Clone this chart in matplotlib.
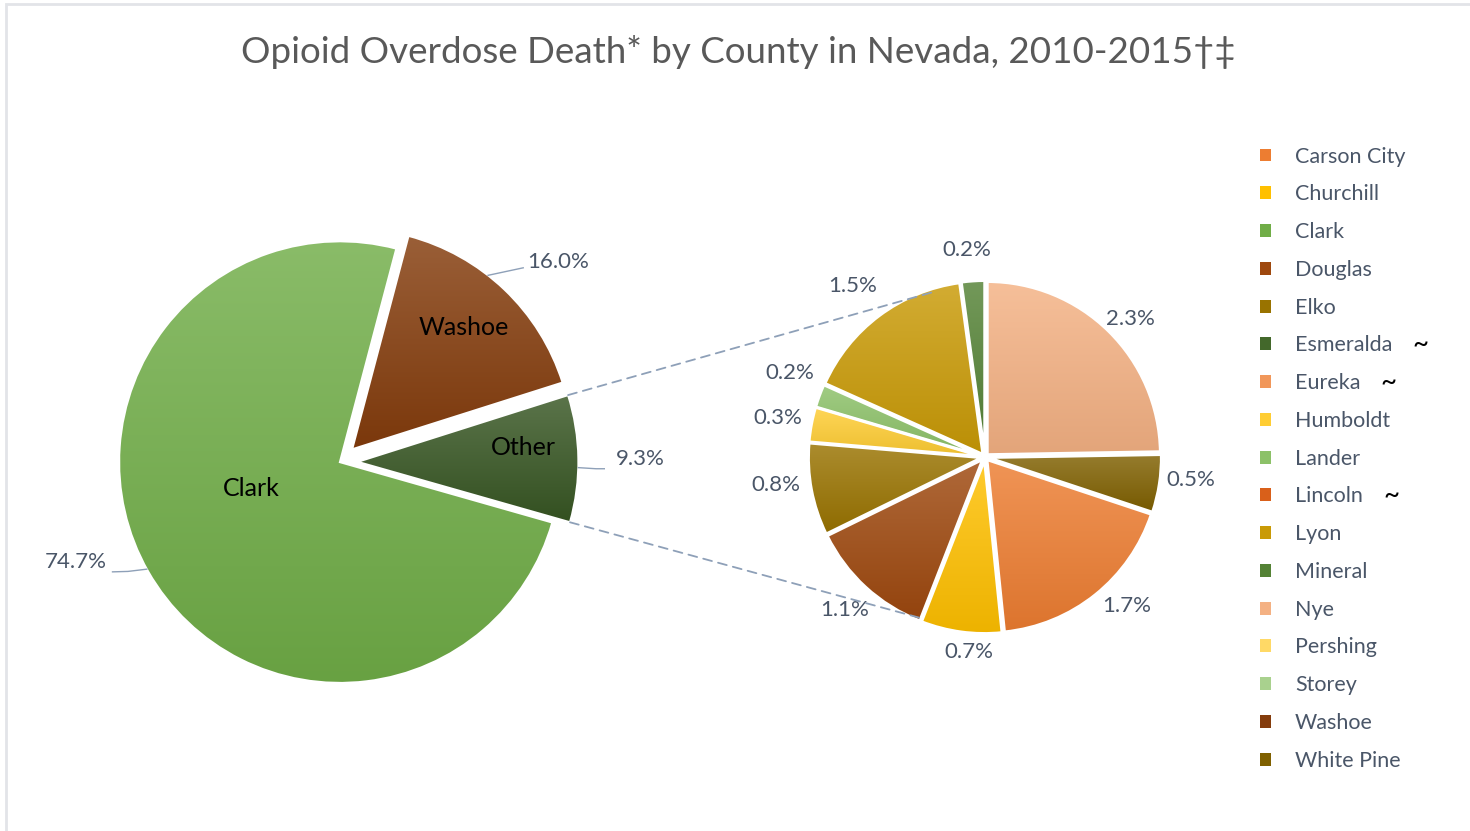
import numpy as np
import matplotlib
matplotlib.use('Agg')
from matplotlib import pyplot as plt
from matplotlib.patches import Patch, Rectangle, ConnectionPatch
from matplotlib.colors import to_rgb

plt.rcParams['font.family'] = ['Lato', 'DejaVu Sans']

# main pie
main_labels = ['Washoe', 'Other', 'Clark']
main_values = [16.0, 9.3, 74.7]
main_colors = ['#843C0C', '#375623', '#70AD47']

# breakdown of "Other"
other_labels = ['Carson City', 'Churchill', 'Douglas', 'Elko', 'Humboldt',
                'Lander', 'Lyon', 'Mineral', 'Nye', 'White Pine']
other_values = [1.7, 0.7, 1.1, 0.8, 0.3, 0.2, 1.5, 0.2, 2.3, 0.5]

# legend
legend_labels = ['Carson City', 'Churchill', 'Clark', 'Douglas', 'Elko',
                 'Esmeralda', 'Eureka', 'Humboldt', 'Lander', 'Lincoln',
                 'Lyon', 'Mineral', 'Nye', 'Pershing', 'Storey', 'Washoe',
                 'White Pine']
legend_colors = ['#ED7D31', '#FFC000', '#70AD47', '#9E480E', '#997300',
                 '#43682B', '#F1975A', '#FFCD33', '#8CC168', '#D9601A',
                 '#C99A06', '#548235', '#F4B183', '#FFD966', '#A9D18E',
                 '#843C0C', '#7F6000']
suppressed = ['Esmeralda', 'Eureka', 'Lincoln']

color_of = dict(zip(legend_labels, legend_colors))
other_colors = [color_of[c] for c in other_labels]

TXT = '#4A5668'
LEAD = '#8EA0B8'


def gradient_fill(ax, wedge, color):
    c = np.array(to_rgb(color))
    top = c + (1 - c) * 0.18
    bottom = c * 0.93
    t = np.linspace(0, 1, 200)[:, None]
    img = top[None, :] * (1 - t) + bottom[None, :] * t
    img = np.repeat(img[:, None, :], 2, axis=1)
    ext = wedge.get_path().get_extents()
    im = ax.imshow(img, extent=[ext.x0, ext.x1, ext.y0, ext.y1],
                   origin='upper', aspect='auto', zorder=1)
    im.set_clip_path(wedge)
    wedge.set_facecolor('none')
    wedge.set_zorder(2)


def on_edge(w, ang):
    a = np.deg2rad(ang)
    cx, cy = w.center
    return cx + w.r * np.cos(a), cy + w.r * np.sin(a)


fig = plt.figure(figsize=(14.7, 8.31), dpi=100)

fig.add_artist(Rectangle((5.5 / 1470, -0.01), 1.2, 1.0 - 4 / 831 + 0.01,
                         transform=fig.transFigure, fill=False,
                         edgecolor='#E2E4E8', lw=2))

fig.text(0.502, 0.938, 'Opioid Overdose Death* by County in Nevada, 2010-2015\u2020\u2021',
         ha='center', va='center', fontsize=26.5, color='#595959')

ax1 = fig.add_axes([0.051, 0.125, 0.3605, 0.6378])
ax2 = fig.add_axes([0.5288, 0.2002, 0.2824, 0.4996])

w1, _ = ax1.pie(main_values, colors=main_colors, explode=[0.08, 0.08, 0],
                startangle=75.2, counterclock=False,
                wedgeprops=dict(edgecolor='white', linewidth=1.5))
for w, col in zip(w1, main_colors):
    gradient_fill(ax1, w, col)
w_wa, w_ot, w_cl = w1

# category names inside main slices
inner_r = [0.75, 0.755, 0.42]
inner_off = [1.0, 4.0, -13.4]
for w, lab, r, off in zip(w1, main_labels, inner_r, inner_off):
    a = np.deg2rad((w.theta1 + w.theta2) / 2 + off)
    cx, cy = w.center
    ax1.text(cx + r * np.cos(a), cy + r * np.sin(a), lab, ha='center',
             va='center', fontsize=18, color='black', zorder=5)

# percentage labels
pct_angle = [42.5, 0.6, 200.7]
pct_r = [1.34, 1.36, 1.28]
for val, ang, r in zip(main_values, pct_angle, pct_r):
    a = np.deg2rad(ang)
    ax1.text(r * np.cos(a), r * np.sin(a), f'{val:.1f}%',
             ha='center', va='center', fontsize=16, color=TXT, zorder=5)

# leader lines from slice edge to label
p0 = on_edge(w_wa, 52.0)
ax1.plot([p0[0], 0.83], [p0[1], 0.88], color=LEAD, lw=1, zorder=4)
p0 = on_edge(w_ot, -1.5)
ax1.plot([p0[0], 1.16, 1.22], [p0[1], -0.03, -0.03], color=LEAD, lw=1, zorder=4)
p0 = on_edge(w_cl, 209.0)
ax1.plot([p0[0], -0.96, -1.03], [p0[1], -0.495, -0.497], color=LEAD, lw=1, zorder=4)

ax1.set_xlim(-1.2, 1.2)
ax1.set_ylim(-1.2, 1.2)
ax1.set_aspect('equal')
ax1.axis('off')

total = sum(other_values)
start2 = 90 - 360 * (other_values[-2] + other_values[-1]) / total
w2, _ = ax2.pie(other_values, colors=other_colors, explode=[0.02] * len(other_values),
                startangle=start2, counterclock=False,
                wedgeprops=dict(edgecolor='white', linewidth=2))
for w, col in zip(w2, other_colors):
    gradient_fill(ax2, w, col)

lab_r2 = [1.19, 1.13, 1.2, 1.22, 1.22, 1.23, 1.25, 1.2, 1.16, 1.2]
lab_off2 = [5.0, 3.0, 0.0, -3.0, 0.0, -3.0, 1.0, 1.0, -2.0, 2.5]
for w, val, r, off in zip(w2, other_values, lab_r2, lab_off2):
    a = np.deg2rad((w.theta1 + w.theta2) / 2 + off)
    ax2.text(r * np.cos(a), r * np.sin(a), f'{val:.1f}%', ha='center',
             va='center', fontsize=16, color=TXT, zorder=5)

ax2.set_xlim(-1.2, 1.2)
ax2.set_ylim(-1.2, 1.2)
ax2.set_aspect('equal')
ax2.axis('off')

# connector lines from "Other" to the breakdown pie
for th, th2 in [(w_ot.theta2, 108.0), (w_ot.theta1, 249.5)]:
    b = np.deg2rad(th2)
    con = ConnectionPatch(xyA=on_edge(w_ot, th), coordsA=ax1.transData,
                          xyB=(np.cos(b), np.sin(b)), coordsB=ax2.transData,
                          color=LEAD, lw=1.3, linestyle=(0, (5, 3.5)))
    fig.add_artist(con)

handles = [Patch(facecolor=c, edgecolor='none') for c in legend_colors]
leg = fig.legend(handles, legend_labels, loc='upper left',
                 bbox_to_anchor=(1251 / 1470, 1 - 138 / 831), frameon=False,
                 fontsize=15.5, handlelength=0.55, handleheight=0.55,
                 handletextpad=1.1, labelspacing=0.825, borderaxespad=0)
for t in leg.get_texts():
    t.set_color(TXT)

fig.canvas.draw()
renderer = fig.canvas.get_renderer()
for t in leg.get_texts():
    if t.get_text() in suppressed:
        bb = t.get_window_extent(renderer)
        fig.text((bb.x1 + 28) / fig.bbox.width, (bb.y0 + bb.y1) / 2 / fig.bbox.height,
                 '~', ha='center', va='center', fontsize=20, color='black')

fig.savefig('out.png', dpi=100)
